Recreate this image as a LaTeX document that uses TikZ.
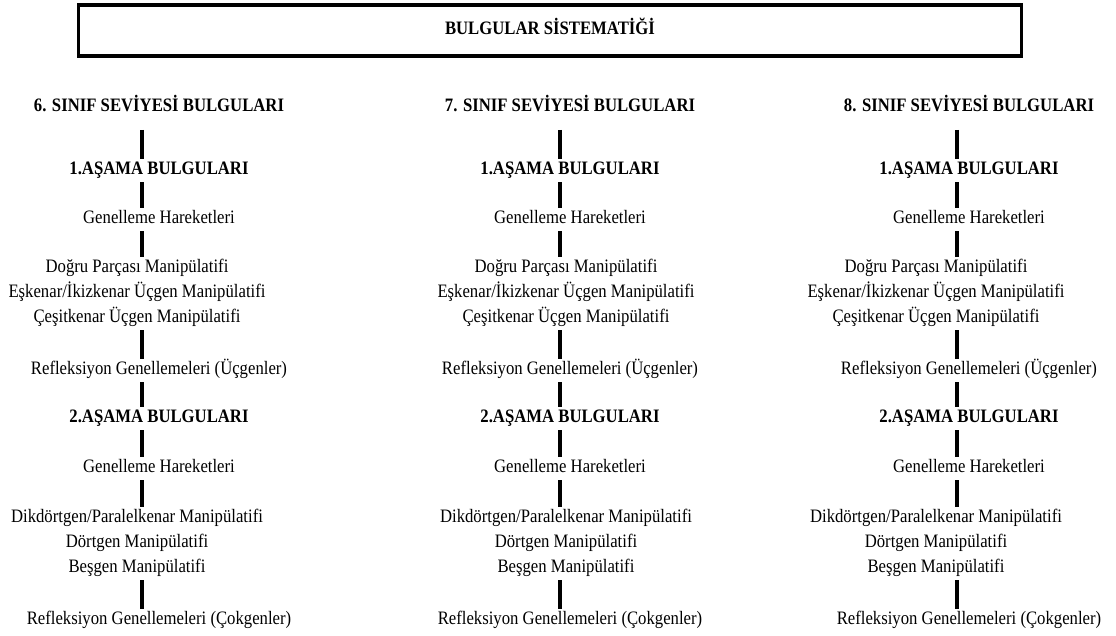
\documentclass[tikz,border=0pt]{standalone}
\usepackage{fontspec}
\setmainfont{Liberation Serif}[FakeStretch=0.88]
\usetikzlibrary{positioning}

\begin{document}
\begin{tikzpicture}[x=0.025cm, y=-0.025cm,
  every node/.style={font=\fontsize{13.5}{16}\selectfont, inner sep=0pt, text height=9pt, text depth=3pt},
  head/.style={font=\fontsize{13.5}{16}\selectfont\bfseries},
  frame/.style={draw, line width=2.2pt, minimum width=23.55cm, minimum height=1.275cm},
  bar/.style={line width=3.5pt, shorten <=2.5pt, shorten >=1.5pt}
]
\useasboundingbox (0,0) rectangle (1116,636);
\node[frame, head] (title) at (550,30.5) {BULGULAR SİSTEMATİĞİ};
\foreach \col/\hx/\lx/\bx in {6/159/137/142, 7/570/566/560, 8/969/936/957} {
  \coordinate (b\col) at (\bx,0);
  \node[head] (g\col) at (\hx,107) {\col. SINIF SEVİYESİ BULGULARI};
  \node[head] (sa\col) at (\hx,170) {1.AŞAMA BULGULARI};
  \node (ga\col) at (\hx,219) {Genelleme Hareketleri};
  \node (dp\col) at (\lx,268) {Doğru Parçası Manipülatifi};
  \node (ei\col) at (\lx,293) {Eşkenar/İkizkenar Üçgen Manipülatifi};
  \node (ck\col) at (\lx,318) {Çeşitkenar Üçgen Manipülatifi};
  \node (ru\col) at (\hx,370) {Refleksiyon Genellemeleri (Üçgenler)};
  \node[head] (sb\col) at (\hx,418) {2.AŞAMA BULGULARI};
  \node (gb\col) at (\hx,468) {Genelleme Hareketleri};
  \node (dk\col) at (\lx,518) {Dikdörtgen/Paralelkenar Manipülatifi};
  \node (dg\col) at (\lx,543) {Dörtgen Manipülatifi};
  \node (bs\col) at (\lx,568) {Beşgen Manipülatifi};
  \node (rc\col) at (\hx,620) {Refleksiyon Genellemeleri (Çokgenler)};
  % vertical links
  \draw[bar, shorten <=10pt] (g\col.south -| b\col) -- (sa\col.north -| b\col);
  \draw[bar] (sa\col.south -| b\col) -- (ga\col.north -| b\col);
  \draw[bar] (ga\col.south -| b\col) -- (dp\col.north -| b\col);
  \draw[bar] (ck\col.south -| b\col) -- (ru\col.north -| b\col);
  \draw[bar] (ru\col.south -| b\col) -- (sb\col.north -| b\col);
  \draw[bar] (sb\col.south -| b\col) -- (gb\col.north -| b\col);
  \draw[bar] (gb\col.south -| b\col) -- (dk\col.north -| b\col);
  \draw[bar] (bs\col.south -| b\col) -- (rc\col.north -| b\col);
}
\end{tikzpicture}
\end{document}
